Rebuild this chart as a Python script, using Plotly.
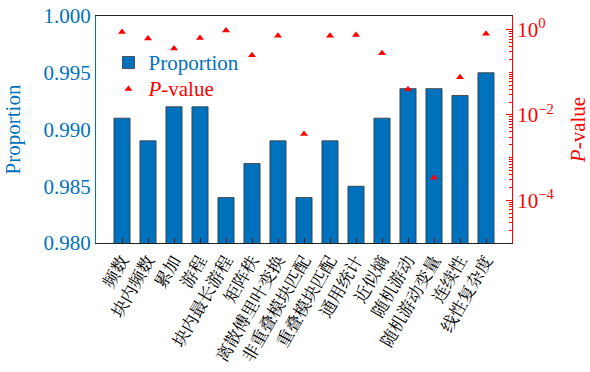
import plotly.graph_objects as go

# Test names, pass proportion and uniformity P-value for each test
tests = ["频数", "块内频数", "累加", "游程", "块内最长游程", "矩阵秩",
         "离散傅里叶变换", "非重叠模块匹配", "重叠模块匹配", "通用统计",
         "近似熵", "随机游动", "随机游动变量", "连续性", "线性复杂度"]
proportion = [0.991, 0.989, 0.992, 0.992, 0.984, 0.987, 0.989, 0.984,
              0.989, 0.985, 0.991, 0.9936, 0.9936, 0.993, 0.995]
p_value = [0.88, 0.62, 0.36, 0.64, 0.96, 0.25, 0.72, 0.0036,
           0.72, 0.75, 0.28, 0.040, 0.00034, 0.077, 0.80]

# right-axis labelled decades
p_tickvals = [1, 1e-2, 1e-4]
p_ticktext = ["10<sup>0</sup>", "10<sup>−2</sup>", "10<sup>−4</sup>"]
prop_tickvals = [0.980, 0.985, 0.990, 0.995, 1.000]
prop_ticktext = ["0.980", "0.985", "0.990", "0.995", "1.000"]

BLUE = "#0072BD"
RED = "#FF0000"
SERIF = "Liberation Serif, DejaVu Serif, serif"
CJK = "Noto Serif CJK SC, Noto Sans CJK SC, sans-serif"

fig = go.Figure()
fig.add_trace(go.Bar(
    x=tests, y=proportion, width=0.62,
    name="<span style='font-size:21px'>Proportion</span>",
    marker=dict(color=BLUE, line=dict(color="#333333", width=0.8)),
    yaxis="y",
))
fig.add_trace(go.Scatter(
    x=tests, y=p_value, mode="markers",
    name=f"<span style='color:{RED};font-size:21px'><i>P</i>-value</span>",
    marker=dict(symbol="triangle-up", size=7, color=RED),
    yaxis="y2",
))

fig.update_layout(
    width=590, height=372,
    margin=dict(l=96, r=78, t=16, b=129),
    paper_bgcolor="white", plot_bgcolor="white",
    showlegend=True,
    legend=dict(x=0.03, y=0.875, xanchor="left", yanchor="top",
                bgcolor="rgba(0,0,0,0)", font=dict(family=SERIF, size=18, color=BLUE),
                tracegroupgap=0, itemwidth=30),
    xaxis=dict(
        type="category", range=[-1, 15], automargin=False,
        showline=True, linecolor="#222222", linewidth=1, mirror=True,
        ticks="inside", ticklen=5, tickcolor="#222222",
        tickangle=-60, tickfont=dict(family=CJK, size=17, color="black"),
        showgrid=False, zeroline=False,
    ),
    yaxis=dict(
        range=[0.980, 1.000], tickvals=prop_tickvals, ticktext=prop_ticktext,
        automargin=False,
        showline=True, linecolor=BLUE, linewidth=1,
        ticks="", tickfont=dict(family=SERIF, size=21, color=BLUE),
        title=dict(text="Proportion", font=dict(family=SERIF, size=21, color=BLUE), standoff=17),
        showgrid=False, zeroline=False,
    ),
    yaxis2=dict(
        type="log", range=[-5, 0.32], overlaying="y", side="right", anchor="x",
        tickvals=p_tickvals, ticktext=p_ticktext, automargin=False,
        showline=True, linecolor=RED, linewidth=1,
        ticks="inside", ticklen=6, tickcolor=RED,
        minor=dict(ticks="inside", ticklen=3, tickcolor=RED, dtick="D1", showgrid=False),
        tickfont=dict(family=SERIF, size=21, color=RED),
        title=dict(text="<i>P</i>-value", font=dict(family=SERIF, size=21, color=RED), standoff=22),
        showgrid=False, zeroline=False,
    ),
)

fig.write_html("out.html")
